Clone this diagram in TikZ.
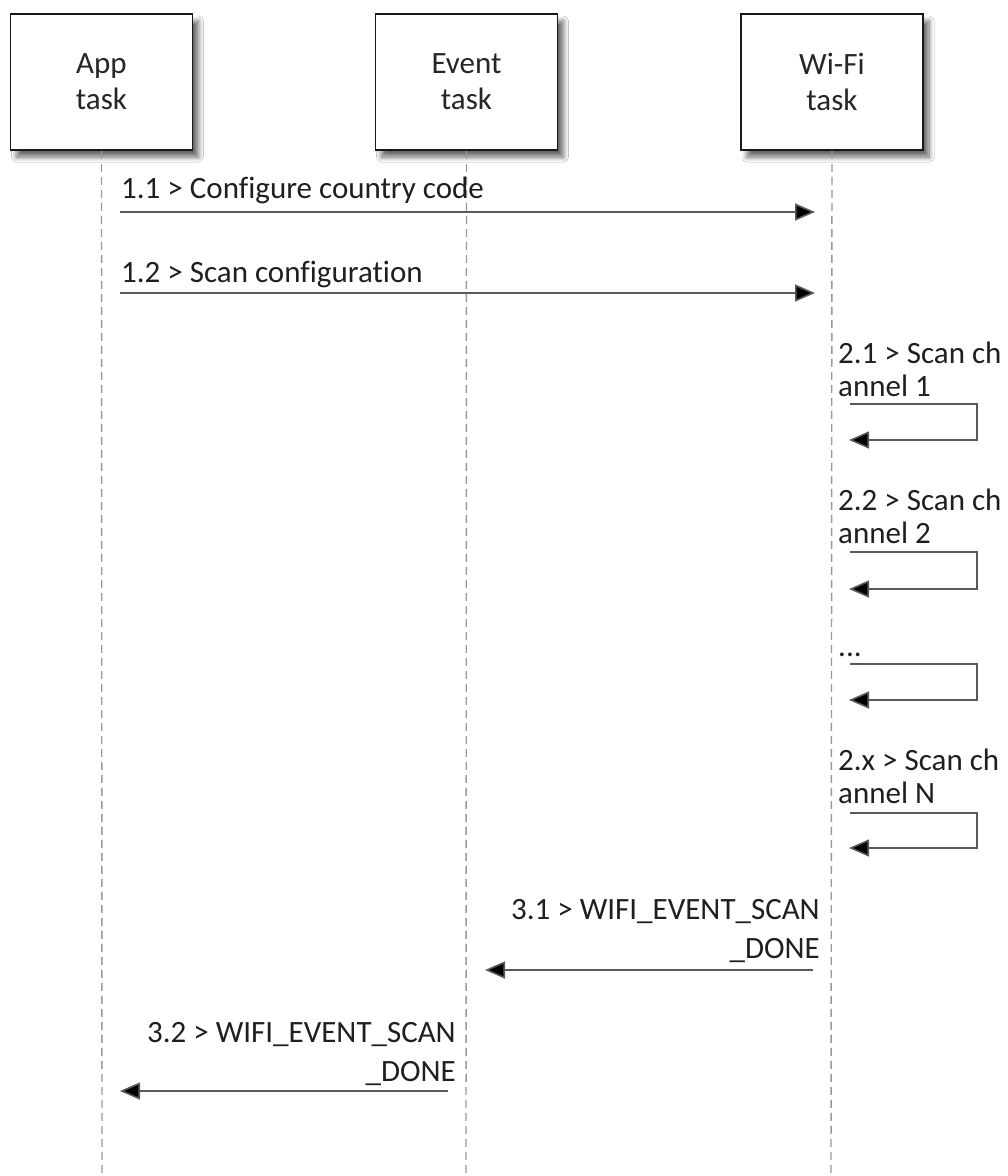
\documentclass[tikz,border=0pt]{standalone}
\usepackage{fontspec}
\setmainfont{Carlito}[RawFeature={-liga}]
\usetikzlibrary{arrows.meta,shadows.blur}
\begin{document}
\begin{tikzpicture}[x=1pt,y=-1pt,
  taskbox/.style={draw=black!90,line width=1.8pt,fill=white,minimum width=182pt,minimum height=136pt,
    align=center,font=\fontsize{31}{36}\selectfont,text=black!85,inner sep=0pt,
    blur shadow={shadow xshift=6pt,shadow yshift=-7pt,shadow blur steps=10,shadow opacity=60,shadow blur radius=5pt}},
  life/.style={draw=gray!80,line width=1.4pt,dash pattern=on 8pt off 5pt},
  msg/.style={draw=black!65,line width=1.6pt,-{Triangle[length=20pt,width=17pt,fill=black]}},
  lbl/.style={font=\fontsize{31}{33}\selectfont,text=black!88,inner sep=0pt},
  lbw/.style={font=\fontsize{31}{39}\selectfont,text=black!88,inner sep=0pt},
]
\useasboundingbox (0,0) rectangle (1008,1176);
\fill[white] (0,0) rectangle (1008,1176);
% lifelines
\coordinate (aB) at (102,1176);
\coordinate (eB) at (466,1176);
\coordinate (wB) at (831,1176);
\node[taskbox] (app) at (101.5,82) {App\\task};
\node[taskbox] (evt) at (466.5,82) {Event\\task};
\node[taskbox] (wifi) at (832,82) {Wi-Fi\\task};
\path[life] (app.south) -- (aB);
\path[life] (evt.south) -- (eB);
\path[life] (wifi.south) -- (wB);
% 1.1
\coordinate (m11s) at (120,212);
\coordinate (m11e) at (815,212);
\draw[msg] (m11s) -- (m11e);
\node[lbl,anchor=base west] (t11) at (121,198) {1.1 > Configure country code};
% 1.2
\coordinate (m12s) at (120,293);
\coordinate (m12e) at (815,293);
\draw[msg] (m12s) -- (m12e);
\node[lbl,anchor=base west] (t12) at (121,282) {1.2 > Scan configuration};
% 2.1
\coordinate (s21a) at (850,404);
\coordinate (s21b) at (977,440);
\coordinate (s21e) at (849,440);
\draw[msg] (s21a) -| (s21b) -- (s21e);
\node[lbl,anchor=base west,align=left] (t21) at (838,396) {2.1 > Scan ch\\annel 1};
% 2.2
\coordinate (s22a) at (850,552);
\coordinate (s22b) at (977,589);
\coordinate (s22e) at (849,589);
\draw[msg] (s22a) -| (s22b) -- (s22e);
\node[lbl,anchor=base west,align=left] (t22) at (838,543) {2.2 > Scan ch\\annel 2};
% ...
\coordinate (s23a) at (850,664);
\coordinate (s23b) at (977,700);
\coordinate (s23e) at (849,700);
\draw[msg] (s23a) -| (s23b) -- (s23e);
\node[lbl,anchor=base west] (t23) at (838,656) {...};
% 2.x
\coordinate (s2xa) at (850,813);
\coordinate (s2xb) at (977,848);
\coordinate (s2xe) at (849,848);
\draw[msg] (s2xa) -| (s2xb) -- (s2xe);
\node[lbl,anchor=base west,align=left] (t2x) at (838,803) {2.x > Scan ch\\annel N};
% 3.1
\coordinate (m31s) at (813,970);
\coordinate (m31e) at (485,970);
\draw[msg] (m31s) -- (m31e);
\node[lbw,anchor=base east,align=right] (t31) at (820,958) {3.1 > WIFI\_EVENT\_SCAN\\\_DONE};
% 3.2
\coordinate (m32s) at (448,1091);
\coordinate (m32e) at (120,1091);
\draw[msg] (m32s) -- (m32e);
\node[lbw,anchor=base east,align=right] (t32) at (456,1081) {3.2 > WIFI\_EVENT\_SCAN\\\_DONE};
\end{tikzpicture}
\end{document}
